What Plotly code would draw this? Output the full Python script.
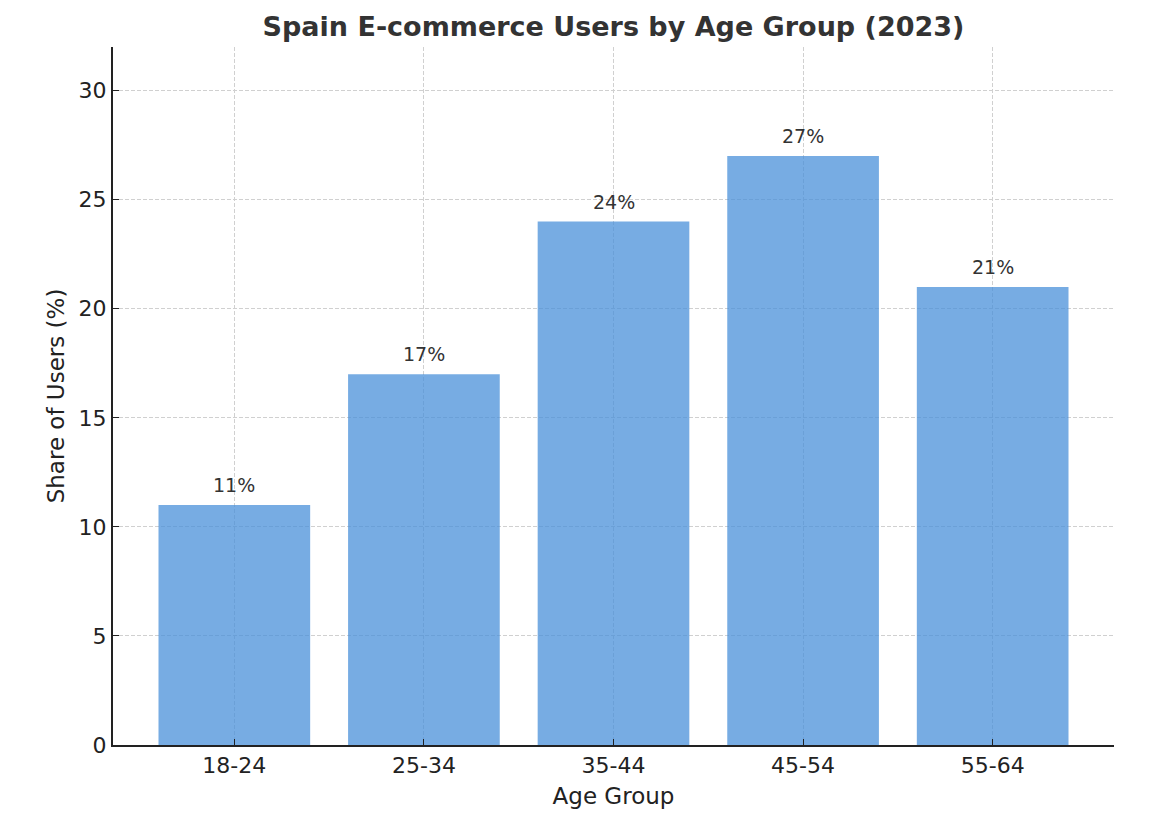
#!/usr/bin/env python3
"""Spain e-commerce users by age group (2023) - bar chart"""

import plotly.graph_objects as go

# data
age_groups = ['18-24', '25-34', '35-44', '45-54', '55-64']
share_pct = [11, 17, 24, 27, 21]
y_ticks = [0, 5, 10, 15, 20, 25, 30]

FONT = 'DejaVu Sans, Verdana, sans-serif'

fig = go.Figure()

fig.add_trace(
    go.Bar(
        x=list(range(len(age_groups))),
        y=share_pct,
        width=0.8,
        marker=dict(color='rgba(74,144,217,0.75)', line=dict(width=0)),
        hoverinfo='skip',
    )
)

# percent labels above each bar
for i, v in enumerate(share_pct):
    fig.add_annotation(
        x=i, y=v, text=f'{v}%',
        showarrow=False, yanchor='bottom', yshift=7,
        font=dict(family=FONT, size=19, color='#333333'),
    )

# page has an 8px body margin, so the figure is slightly smaller than the window
fig.update_layout(
    width=1152, height=817,
    margin=dict(l=105, r=46, t=39, b=80),
    paper_bgcolor='white',
    plot_bgcolor='white',
    showlegend=False,
    font=dict(family=FONT, size=22, color='#222222'),
    title=dict(
        text='<b>Spain E-commerce Users by Age Group (2023)</b>',
        xref='paper', x=0.5, xanchor='center', y=0.977, yanchor='middle',
        font=dict(family=FONT, size=27, color='#333333'),
    ),
)

fig.update_xaxes(
    range=[-0.64, 4.64],
    tickmode='array', tickvals=list(range(len(age_groups))), ticktext=age_groups,
    ticks='inside', ticklen=6, tickcolor='#222222',
    showline=True, linecolor='#222222', linewidth=2,
    showgrid=True, gridcolor='#d0d0d0', griddash='4px,2px', gridwidth=1,
    zeroline=False,
    title=dict(text='Age Group', font=dict(size=23), standoff=10),
)

fig.update_yaxes(
    range=[0, 32],
    tickmode='array', tickvals=y_ticks,
    ticks='inside', ticklen=6, tickcolor='#222222',
    showline=True, linecolor='#222222', linewidth=2,
    showgrid=True, gridcolor='#d0d0d0', griddash='4px,2px', gridwidth=1,
    zeroline=False,
    title=dict(text='Share of Users (%)', font=dict(size=23), standoff=8),
)

fig.write_html('out.html')
